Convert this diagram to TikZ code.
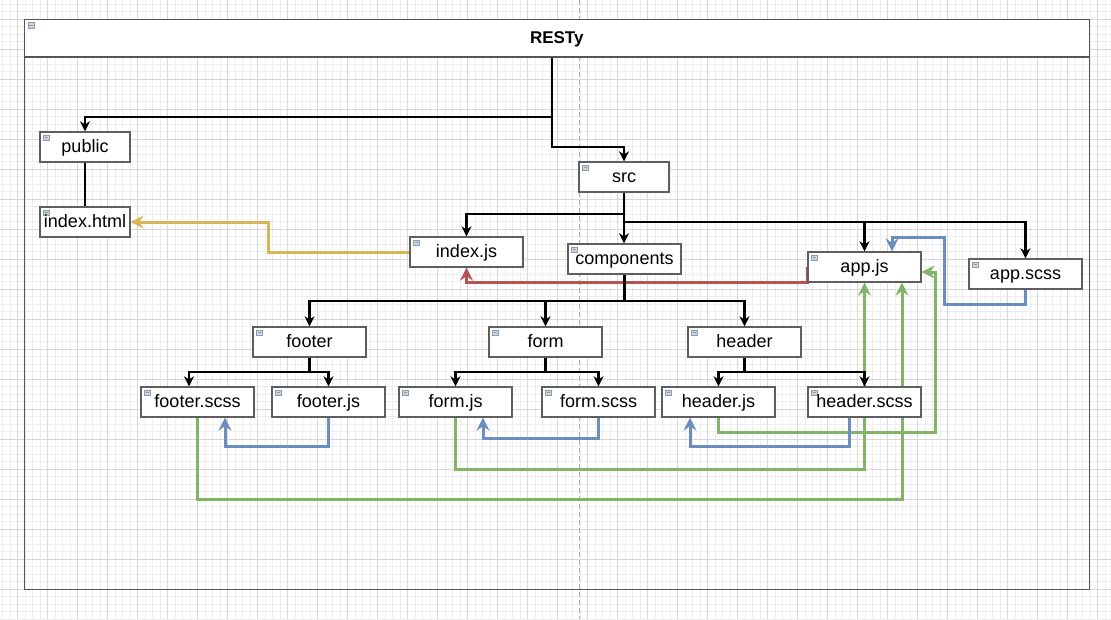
\documentclass[tikz,border=0pt]{standalone}
\usepackage{fontspec}
\setmainfont{Liberation Sans}
\usetikzlibrary{arrows.meta}
\pgfdeclarelayer{gridlayer}
\pgfdeclarelayer{edges}
\pgfsetlayers{gridlayer,edges,main}
\definecolor{boxgray}{HTML}{5E5E5E}
\definecolor{contgray}{HTML}{555555}
\definecolor{cyel}{HTML}{D6B656}
\definecolor{cred}{HTML}{B85450}
\definecolor{cblu}{HTML}{6C8EBF}
\definecolor{cgrn}{HTML}{82B366}
\definecolor{gminorc}{HTML}{EEEEEE}
\definecolor{gmajorc}{HTML}{D8D8D8}
\definecolor{iconfill}{HTML}{CDD5DE}
\definecolor{icondraw}{HTML}{8C9BAD}
\tikzset{
  iconpic/.style={path picture={
    \draw[draw=icondraw, fill=iconfill, line width=0.6pt]
      ([shift={(3.5pt,-3pt)}]path picture bounding box.north west) rectangle ++(6pt,-5.5pt);
    \draw[draw=icondraw, line width=0.6pt]
      ([shift={(4.8pt,-5.75pt)}]path picture bounding box.north west) -- ++(3.4pt,0);}},
  fbox/.style={draw=boxgray, line width=1.3pt, fill=white, minimum width=113pt,
    minimum height=30pt, inner sep=0pt, text height=12.5pt, text depth=1pt,
    font=\fontsize{18}{21}\selectfont, iconpic},
  blk/.style={draw=black, line width=2.2pt, -{Stealth[length=10pt,width=10pt,inset=3pt]}},
  colc/.style={line width=3pt, -{Stealth[length=13pt,width=13pt,inset=4.5pt]}},
  yel/.style={colc, draw=cyel, color=cyel},
  redc/.style={colc, draw=cred, color=cred},
  blu/.style={colc, draw=cblu, color=cblu},
  grn/.style={colc, draw=cgrn, color=cgrn},
  gminor/.style={draw=gminorc, line width=0.9pt},
  gmajor/.style={draw=gmajorc, line width=1pt}
}
\begin{document}
\begin{tikzpicture}[x=1pt,y=-1pt]
\useasboundingbox (0,0) rectangle (1111,619);
\begin{pgfonlayer}{gridlayer}
\fill[white] (0,0) rectangle (1111,619);
\foreach \i in {0,...,148} \draw[gminor] ({2.5+7.5*\i},0) -- ({2.5+7.5*\i},619);
\foreach \i in {0,...,82} \draw[gminor] (0,{4.3+7.5*\i}) -- (1111,{4.3+7.5*\i});
\foreach \i in {0,...,36} \draw[gmajor] ({17.5+30*\i},0) -- ({17.5+30*\i},619);
\foreach \i in {0,...,19} \draw[gmajor] (0,{19.3+30*\i}) -- (1111,{19.3+30*\i});
\draw[draw=gray!60, line width=0.9pt, dash pattern=on 5pt off 3pt] (579.5,0) -- (579.5,619);
\end{pgfonlayer}

% container and title band
\node[draw=contgray, line width=1.2pt, minimum width=1065pt, minimum height=569.6pt, inner sep=0pt] (container) at (556.8,304.5) {};
\node[draw=contgray, line width=1.2pt, fill=white, minimum width=1065pt, minimum height=37.3pt, inner sep=0pt,
  text height=12pt, text depth=1pt, font=\bfseries\fontsize{17}{20}\selectfont, iconpic] (title) at (556.8,38.35) {RESTy};

% boxes
\node[fbox, minimum width=90pt] (public) at (85,147) {public};
\node[fbox, minimum width=90pt] (indexhtml) at (85,222) {index.html};
\node[fbox, minimum width=90pt] (src) at (624,177) {src};
\node[fbox] (indexjs) at (466.5,252) {index.js};
\node[fbox] (components) at (624.5,259) {components};
\node[fbox] (appjs) at (864.5,267) {app.js};
\node[fbox] (appscss) at (1025.5,274) {app.scss};
\node[fbox] (footer) at (309.5,342) {footer};
\node[fbox] (form) at (545.5,342) {form};
\node[fbox] (header) at (744.5,342) {header};
\node[fbox] (footerscss) at (197.5,402) {footer.scss};
\node[fbox] (footerjs) at (328.5,402) {footer.js};
\node[fbox] (formjs) at (455.5,402) {form.js};
\node[fbox] (formscss) at (598.5,402) {form.scss};
\node[fbox] (headerjs) at (718.5,402) {header.js};
\node[fbox] (headerscss) at (864.5,402) {header.scss};

\begin{pgfonlayer}{edges}
% coloured dependency lines
\draw[yel] (indexjs.west) -- ++(-140.5,0) |- (indexhtml.east);
\draw[redc] (appjs.west) -- ++(0,15) -| (indexjs.south);
\draw[blu] (appscss.south) -- ++(0,15) -- ++(-81,0) -- ++(0,-67) -| ([xshift=27.5pt]appjs.north);
\draw[grn] (formjs.south) -- ++(0,52) -| (appjs.south);
\draw[grn] (footerscss.south) -- ++(0,82) -| ([xshift=37.5pt]appjs.south);
\draw[grn] (headerjs.south) -- ++(0,15) -- ++(217,0) |- ([yshift=-5pt]appjs.east);
\draw[blu] (footerjs.south) -- ++(0,29) -| ([xshift=27.5pt]footerscss.south);
\draw[blu] (formscss.south) -- ++(0,21) -| ([xshift=27.5pt]formjs.south);
\draw[blu] ([xshift=-15.5pt]headerscss.south) -- ++(0,29) -| ([xshift=-28.5pt]headerjs.south);
% tree lines
\draw[blk] ([xshift=-4.8pt]title.south) -- ++(0,59) -| (public.north);
\draw[blk] ([xshift=-4.8pt]title.south) -- ++(0,89.5) -| (src.north);
\draw[draw=black, line width=2.2pt] (public) -- (indexhtml);
\draw[blk] (src.south) -- ++(0,21) -| (indexjs.north);
\draw[blk] (src.south) -- (src.south |- components.north);
\draw[blk] (src.south) -- ++(0,29) -| (appjs.north);
\draw[blk] (src.south) -- ++(0,29) -| (appscss.north);
\draw[blk] (components.south) -- ++(0,26) -| (footer.north);
\draw[blk] (components.south) -- ++(0,26) -| (form.north);
\draw[blk] (components.south) -- ++(0,26) -| (header.north);
\draw[blk] (footer.south) -- ++(0,14) -| ([xshift=-8.5pt]footerscss.north);
\draw[blk] (footer.south) -- ++(0,14) -| (footerjs.north);
\draw[blk] (form.south) -- ++(0,14) -| (formjs.north);
\draw[blk] (form.south) -- ++(0,14) -| (formscss.north);
\draw[blk] (header.south) -- ++(0,14) -| (headerjs.north);
\draw[blk] (header.south) -- ++(0,14) -| (headerscss.north);
\end{pgfonlayer}
\end{tikzpicture}
\end{document}
